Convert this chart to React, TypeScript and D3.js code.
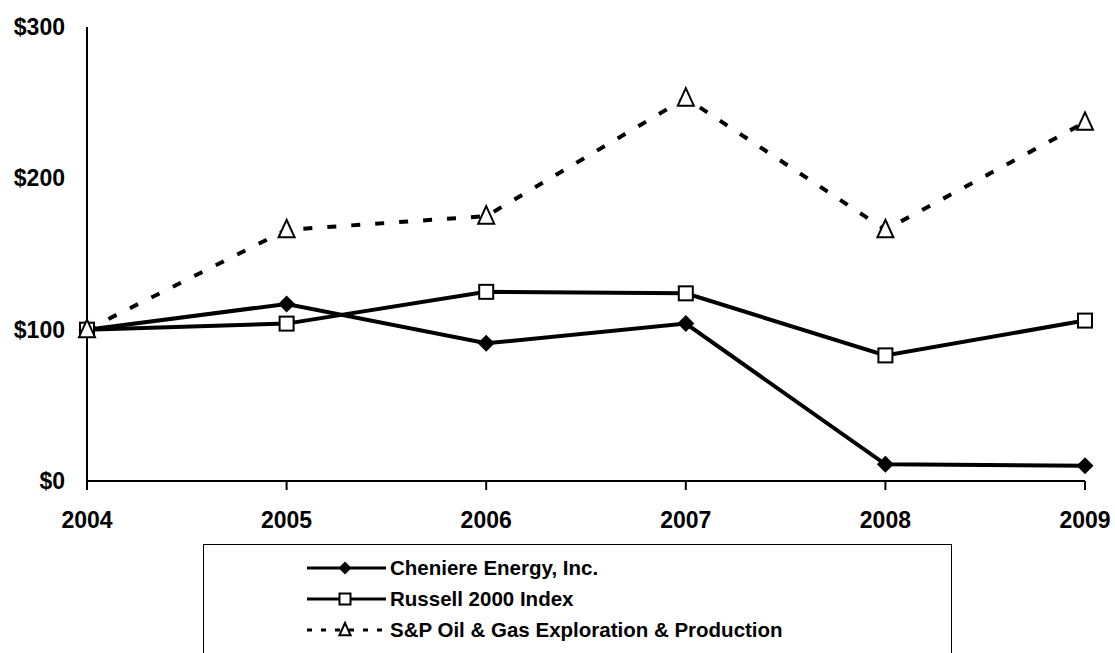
import * as d3 from "d3";

const years = ["2004", "2005", "2006", "2007", "2008", "2009"];
const cheniere = [100, 117, 91, 104, 11, 10];
const russell = [100, 104, 125, 124, 83, 106];
const spOilGas = [100, 166, 175, 253, 166, 237];
const yTicks = [0, 100, 200, 300];

const seriesNames = [
  "Cheniere Energy, Inc.",
  "Russell 2000 Index",
  "S&P Oil & Gas Exploration & Production",
];

const W = 1115;
const H = 653;
const FONT = "'Liberation Sans', Arial, sans-serif";

function Marker({ kind, x, y, s }: { kind: string; x: number; y: number; s: number }) {
  if (kind === "diamond") {
    return (
      <path
        d={`M${x},${y - s}L${x + s},${y}L${x},${y + s}L${x - s},${y}Z`}
        fill="#000"
      />
    );
  }
  if (kind === "square") {
    return (
      <rect
        x={x - s}
        y={y - s}
        width={s * 2}
        height={s * 2}
        fill="#fff"
        stroke="#000"
        strokeWidth={2}
      />
    );
  }
  return (
    <path
      d={`M${x},${y - s}L${x + s * 0.8},${y + s * 0.75}L${x - s * 0.8},${y + s * 0.75}Z`}
      fill="#fff"
      stroke="#000"
      strokeWidth={2}
      strokeLinejoin="miter"
    />
  );
}

export default function App() {
  const x = d3.scalePoint<string>().domain(years).range([87, 1085]);
  const y = d3.scaleLinear().domain([0, 300]).range([481, 27]);

  const line = d3
    .line<number>()
    .x((_, i) => x(years[i]) ?? 0)
    .y((d) => y(d));

  const series = [
    { name: seriesNames[0], values: cheniere, kind: "diamond", dash: undefined },
    { name: seriesNames[1], values: russell, kind: "square", dash: undefined },
    { name: seriesNames[2], values: spOilGas, kind: "triangle", dash: "9 15" },
  ];

  const markerSize = (kind: string) => (kind === "diamond" ? 8.5 : kind === "square" ? 7 : 10);
  const legendSize = (kind: string) => (kind === "diamond" ? 6.5 : kind === "square" ? 5.5 : 7);
  const legendRows = [575, 606, 637];

  return (
    <svg
      width={W}
      height={H}
      style={{ position: "absolute", left: 0, top: 0, background: "#fff" }}
      fontFamily={FONT}
    >
      <rect width={W} height={H} fill="#fff" />

      {/* axes */}
      <line x1={x("2004")} x2={x("2004")} y1={y(300)} y2={y(0) + 9} stroke="#000" strokeWidth={2} />
      <line x1={x("2004")} x2={x("2009")} y1={y(0)} y2={y(0)} stroke="#000" strokeWidth={2} />
      {years.map((yr) => (
        <line
          key={"t" + yr}
          x1={x(yr)}
          x2={x(yr)}
          y1={y(0)}
          y2={y(0) + 9}
          stroke="#000"
          strokeWidth={2}
        />
      ))}

      {yTicks.map((t) => (
        <text
          key={"y" + t}
          x={65}
          y={y(t) + 8}
          textAnchor="end"
          fontSize={23}
          fontWeight="bold"
        >
          {"$" + t}
        </text>
      ))}

      {years.map((yr) => (
        <text
          key={"x" + yr}
          x={x(yr)}
          y={528}
          textAnchor="middle"
          fontSize={23}
          fontWeight="bold"
        >
          {yr}
        </text>
      ))}

      {/* lines */}
      {series.map((s) => (
        <path
          key={"l" + s.name}
          d={line(s.values) ?? ""}
          fill="none"
          stroke="#000"
          strokeWidth={4}
          strokeDasharray={s.dash}
        />
      ))}
      {series.map((s) =>
        s.values.map((v, i) => (
          <Marker
            key={s.name + i}
            kind={s.kind}
            x={x(years[i]) ?? 0}
            y={y(v)}
            s={markerSize(s.kind)}
          />
        ))
      )}

      {/* legend */}
      <rect x={203.5} y={544.5} width={748} height={120} fill="#fff" stroke="#000" strokeWidth={1} />
      {series.map((s, i) => {
        const ly = legendRows[i] - 7;
        return (
          <g key={"lg" + s.name}>
            <line
              x1={307}
              x2={386}
              y1={ly}
              y2={ly}
              stroke="#000"
              strokeWidth={3}
              strokeDasharray={s.dash ? "5 9" : undefined}
            />
            <Marker kind={s.kind} x={345} y={ly} s={legendSize(s.kind)} />
            <text x={390} y={legendRows[i]} fontSize={20.5} fontWeight="bold">
              {s.name}
            </text>
          </g>
        );
      })}
    </svg>
  );
}
